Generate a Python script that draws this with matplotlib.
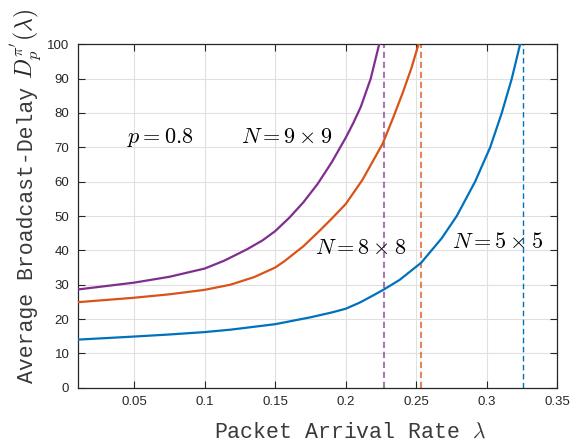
import matplotlib
matplotlib.use("Agg")
from matplotlib import pyplot as plt

# datos
x_5 = [0.01, 0.05, 0.075, 0.10, 0.1183, 0.15, 0.175, 0.19, 0.20, 0.21, 0.22, 0.227,
       0.2382, 0.2535, 0.268, 0.2787, 0.2917, 0.3024, 0.3106, 0.3177, 0.3236]
d_5 = [14.0, 14.9, 15.5, 16.2, 16.9, 18.5, 20.5, 21.9, 23.0, 24.8, 27.0, 28.6,
       31.4, 36.4, 43.5, 50.0, 60.0, 70.0, 80.0, 90.0, 100]

x_8 = [0.01, 0.05, 0.075, 0.10, 0.1183, 0.135, 0.15, 0.1564, 0.17, 0.1817,
       0.19, 0.20, 0.2118, 0.2261, 0.2335, 0.2405, 0.2465, 0.2516]
d_8 = [24.9, 26.2, 27.2, 28.5, 30.0, 32.2, 35.0, 36.8, 41.2, 45.8,
       49.2, 53.5, 60.5, 71.0, 78.5, 86.0, 93.0, 100]

x_9 = [0.01, 0.05, 0.075, 0.10, 0.1139, 0.13, 0.141, 0.15, 0.16, 0.17,
       0.18, 0.19, 0.2, 0.2055, 0.2107, 0.2177, 0.2237]
d_9 = [28.6, 30.6, 32.3, 34.7, 37.0, 40.3, 42.9, 45.6, 49.5, 54.0,
       59.3, 65.6, 72.8, 77.2, 81.8, 90.0, 100]

# tasas de llegada limite (lineas verticales)
lim_5, lim_8, lim_9 = 0.3259, 0.2537, 0.2268

azul, naranja, morado = "#0072BD", "#D95319", "#7E2F8E"

plt.rcParams["mathtext.fontset"] = "cm"
plt.rcParams["font.family"] = ["Liberation Sans", "DejaVu Sans"]

fig = plt.figure(figsize=(5.76, 4.43), dpi=100)
ax = fig.add_axes([0.1349, 0.1248, 0.8327, 0.7752])

ax.plot(x_9, d_9, color=morado, lw=1.6, zorder=3)
ax.plot(x_8, d_8, color=naranja, lw=1.6, zorder=3)
ax.plot(x_5, d_5, color=azul, lw=1.6, zorder=3)

ax.axvline(lim_9, color=morado, alpha=0.65, lw=1.5, dashes=(3, 1.8))
ax.axvline(lim_8, color=naranja, alpha=0.7, lw=1.5, dashes=(3, 1.8))
ax.axvline(lim_5, color=azul, lw=1.0, dashes=(4, 2.5))

ax.set_xlim(0.01, 0.35)
ax.set_ylim(0, 100)
ax.set_xticks([0.05, 0.1, 0.15, 0.2, 0.25, 0.3, 0.35])
ax.set_xticklabels(["0.05", "0.1", "0.15", "0.2", "0.25", "0.3", "0.35"])
ax.set_yticks(range(0, 101, 10))

ax.grid(True, color="#e0e0e0", lw=0.8)
ax.set_axisbelow(True)
ax.tick_params(direction="in", length=5, width=0.8, top=True, right=True,
               labelsize=9.5, colors="#262626", pad=6)
for s in ax.spines.values():
    s.set_color("#262626")
    s.set_linewidth(0.9)

# etiquetas de los ejes
ax.text(0.284, -0.147, r"Packet Arrival Rate $\lambda$", transform=ax.transAxes,
        family="Liberation Mono", fontsize=15.5, color="#3a3a3a",
        ha="left", va="baseline")
ax.text(-0.093, 0.0137, "Average Broadcast-Delay", transform=ax.transAxes,
        family="Liberation Mono", fontsize=15.5, color="#3a3a3a", rotation=90,
        rotation_mode="anchor", ha="left", va="baseline")
ax.text(-0.093, 0.9004, r"$D_p^{\pi'}(\lambda)$", transform=ax.transAxes,
        fontsize=17, color="#262626", rotation=90,
        rotation_mode="anchor", ha="left", va="baseline")

# anotaciones
ax.text(0.0682, 71.2, r"$p=0.8$", fontsize=16, ha="center", va="baseline")
ax.text(0.1582, 71.2, r"$N=9\times9$", fontsize=16, ha="center", va="baseline")
ax.text(0.2104, 38.9, r"$N=8\times8$", fontsize=16, ha="center", va="baseline")
ax.text(0.3073, 40.6, r"$N=5\times5$", fontsize=16, ha="center", va="baseline")

fig.savefig("out.png", dpi=100)
